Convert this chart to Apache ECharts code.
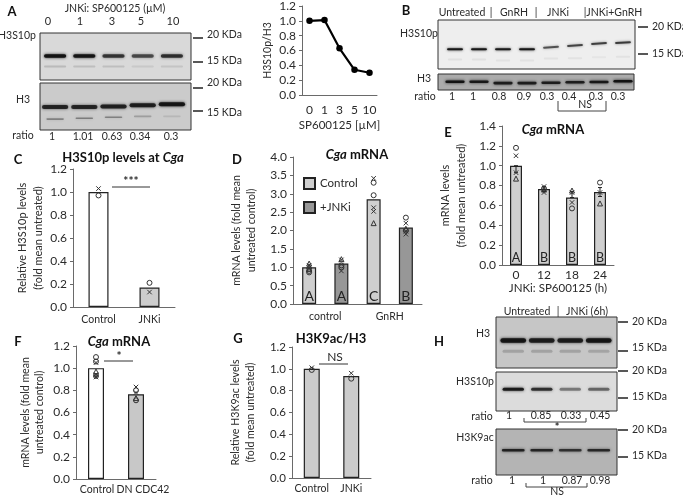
<!DOCTYPE html>
<html><head><meta charset="utf-8">
<script src="https://cdn.jsdelivr.net/npm/echarts@6/dist/echarts.min.js"></script>
<style>html,body{margin:0;padding:0;background:#fff}#c{width:683px;height:496px}</style></head>
<body><div id="c"></div>
<script>
// ---------- DATA ----------
const doseCats = ['0','1','3','5','10'];
const doseRatio = [1,1.01,0.63,0.34,0.3];

const cCats = ['Control','JNKi'];
const cVals = [1,0.17];
const cX = [[0,1.03],[1,0.13]];
const cO = [[0,0.97],[1,0.21]];

const dGroups = ['control','GnRH'];
const dCats = ['c1','c2','g1','g2'];
const dControl = [1,null,2.85,null];
const dJnki = [null,1.1,null,2.08];
const dLetters = ['A','A','C','B'];
const dX = [[0,1.05],[1,0.9],[1,1.2],[2,3.42],[2,2.62],[2,2.52],[3,2.2],[3,1.98],[3,1.9]];
const dO = [[0,0.9],[0,0.86],[1,1.05],[1,1.0],[2,3.3],[2,2.96],[3,2.35],[3,2.0]];
const dT = [[0,1.1],[0,1.02],[1,1.22],[2,2.2],[3,2.05],[0,0.95]];

const eCats = ['0','12','18','24'];
const eVals = [1,0.765,0.68,0.735];
const eLetters = ['A','B','B','B'];
const eX = [[0,1.1],[0,0.93],[1,0.79],[1,0.73],[2,0.73],[2,0.63],[3,0.73]];
const eO = [[0,1.18],[1,0.77],[2,0.57],[3,0.83]];
const eT = [[0,0.87],[1,0.76],[2,0.75],[3,0.62]];
const eErr = [[0,0.93,1.0],[1,0.74,0.79],[2,0.68,0.74],[3,0.69,0.78]];

const fCats = ['Control','DN CDC42'];
const fVals = [1,0.765];
const fX = [[0,1.05],[0,0.94],[0,0.92],[1,0.83],[1,0.78]];
const fO = [[0,1.1],[0,1.06],[0,0.93],[1,0.8],[1,0.71]];
const fT = [[0,0.97],[1,0.73]];

const gCats = ['Control','JNKi'];
const gVals = [1,0.935];
const gX = [[0,1.01],[1,0.96]];
const gO = [[0,0.99],[1,0.91]];

// blot band readings: darkness per lane, and relative migration in the membrane
const a1Dark = [0.95,0.92,0.72,0.62,0.75];
const a1Faint = [0.14,0.13,0.12,0.08,0.1];
const a2Dark = [0.8,0.8,0.82,0.85,0.92];
const a2Pos = [0.51,0.51,0.5,0.47,0.45];
const a2Faint = [0.35,0.38,0.36,0.22,0.1];
const a2FaintPos = [0.78,0.76,0.74,0.72,0.72];
const b1Dark = [0.92,0.92,0.9,0.92,0.62,0.68,0.7,0.72];
const b1Pos = [0.6,0.6,0.6,0.6,0.56,0.52,0.48,0.46];
const b1Tilt = [0,0,0,0,0.07,0.07,0.07,0.05];
const b1Faint = [0.06,0.06,0.05,0.05,0.05,0.05,0.04,0.05];
const b1FaintPos = [0.82,0.82,0.84,0.84,0.8,0.79,0.77,0.76];
const b2Dark = [0.95,0.9,0.85,0.85,0.85,0.85,0.9,0.95];
const b2Pos = [0.48,0.48,0.58,0.58,0.55,0.52,0.5,0.45];
const h1Dark = [0.92,0.85,0.85,0.92];
const h1Faint = [0.18,0.18,0.18,0.16];
const h2Dark = [0.88,0.75,0.42,0.5];
const h3Dark = [0.82,0.8,0.72,0.78];

const ratiosA = ['1','1.01','0.63','0.34','0.3'];
const ratiosB = ['1','1','0.8','0.9','0.3','0.4','0.3','0.3'];
const ratiosH1 = ['1','0.85','0.33','0.45'];
const ratiosH2 = ['1','1','0.87','0.98'];

// ---------- BUILD ----------
const FONT = 'Lato';
const TXT = '#2a2a2a', AX = '#6a6a6a', BORDER = '#222';
const grid = [], xAxis = [], yAxis = [], series = [], title = [], graphic = [];

function text(s, x, y, o) {
  graphic.push({type:'text', x:x, y:y, silent:true, z:20, style:Object.assign({
    text:s, fill:TXT, font:'10.5px '+FONT, align:'center', verticalAlign:'middle'}, o||{})});
}
function line(x1,y1,x2,y2,w,c){
  graphic.push({type:'line', silent:true, z:20, shape:{x1,y1,x2,y2}, style:{stroke:c||'#333', lineWidth:w||1}});
}
function bracket(x1,x2,y,h){
  graphic.push({type:'polyline', silent:true, z:20, shape:{points:[[x1,y-h],[x1,y],[x2,y],[x2,y-h]]}, style:{stroke:'#444',lineWidth:1,fill:null}});
}
function panelTitle(x,y,rich){
  title.push({text:rich, left:x, top:y, textAlign:'center', padding:0, textVerticalAlign:'top',
    textStyle:{rich:{b:{fontFamily:FONT,fontWeight:'bold',fontSize:13,color:'#111'},
                     i:{fontFamily:FONT,fontWeight:'bold',fontStyle:'italic',fontSize:13,color:'#111'}}}});
}
const X_PATH = 'path://M0 0L10 10M10 0L0 10';
function marks(xi, yi, data, kind){
  if(!data) return;
  const sym = {x:X_PATH,o:'circle',t:'triangle'}[kind];
  series.push({type:'scatter', xAxisIndex:xi, yAxisIndex:yi, data:data, symbol:sym,
    symbolSize:kind==='x'?4.5:5, z:10, silent:true,
    itemStyle:{color:'rgba(0,0,0,0)', borderColor:'#333', borderWidth:1, opacity:1}});
}
function chart(o){
  const gi = grid.length;
  grid.push({left:o.l, top:o.t, width:o.w, height:o.h, containLabel:false});
  const labelStyle = Object.assign({color:TXT, fontFamily:FONT, fontSize:o.xFont||10.5, margin:o.xMargin||6, interval:0},o.xLabel||{});
  const xi = xAxis.length;
  xAxis.push({type:'category', gridIndex:gi, data:o.cats, axisLine:{lineStyle:{color:AX,width:1}},
    axisTick:{length:3,lineStyle:{color:AX}}, axisLabel:labelStyle,
    name:o.xName||'', nameLocation:'middle', nameGap:o.xNameGap||24,
    nameTextStyle:{color:TXT,fontFamily:FONT,fontSize:o.xNameFont||11.5}});
  const yi = yAxis.length;
  yAxis.push({type:'value', gridIndex:gi, min:0, max:o.max, interval:o.step,
    axisLine:{show:true,lineStyle:{color:AX,width:1}}, axisTick:{show:true,length:3,lineStyle:{color:AX}},
    splitLine:{show:false},
    axisLabel:{color:TXT,fontFamily:FONT,fontSize:o.yFont||12,margin:o.yMargin||6,formatter:v=>v.toFixed(1)},
    name:o.yName||'', nameLocation:'middle', nameRotate:90, nameGap:o.yGap||30,
    nameTextStyle:{color:TXT,fontFamily:FONT,fontSize:o.yNameFont||11,lineHeight:o.yLine||15}});
  return {xi,yi,gi};
}
function barStyle(c){ return {color:c, borderColor:BORDER, borderWidth:1.2}; }
function letterLabel(arr,size){
  return {show:true, position:'insideBottom', distance:1, color:'#222', fontFamily:FONT, fontSize:size,
    formatter:p=>arr[p.dataIndex]};
}

// --- A line chart
{
  const a = chart({l:302,t:4,w:75,h:91,cats:doseCats,max:1.2,step:0.2,yFont:12,xFont:12,xMargin:9,
    yName:'H3S10p/H3',yGap:25,yNameFont:10.5,xName:'SP600125 [µM]',xNameGap:24,xNameFont:11.5});
  series.push({type:'line',xAxisIndex:a.xi,yAxisIndex:a.yi,data:doseRatio,symbol:'circle',symbolSize:6.5,
    lineStyle:{color:'#000',width:2.2},itemStyle:{color:'#000'}});
}
// --- C
{
  const a = chart({l:73,t:169,w:102,h:138,cats:cCats,max:1.2,step:0.2,xMargin:7,
    yName:'Relative H3S10p levels\n(fold mean untreated)',yGap:22,yLine:16,yNameFont:11});
  series.push({type:'bar',xAxisIndex:a.xi,yAxisIndex:a.yi,barWidth:20,
    data:[{value:cVals[0],itemStyle:barStyle('#fff')},{value:cVals[1],itemStyle:barStyle('#ccc')}]});
  marks(a.xi,a.yi,cX,'x'); marks(a.xi,a.yi,cO,'o');
  panelTitle(123,151,'{b|H3S10p levels at }{i|Cga}');
  line(112,187,150,187); text('***',131,181,{font:'bold 12px '+FONT});
}
// --- D
{
  const a = chart({l:293,t:157,w:129,h:147,cats:dGroups,max:4,step:0.5,xMargin:7,
    yName:'mRNA levels (fold mean\nuntreated control)',yGap:34,yLine:15,yNameFont:10.6});
  const hx = xAxis.length;
  xAxis.push({type:'category',gridIndex:a.gi,data:dCats,show:false});
  const common = {type:'bar',xAxisIndex:hx,yAxisIndex:a.yi,barWidth:14,barGap:'-100%'};
  series.push(Object.assign({},common,{name:'Control',data:dControl,itemStyle:barStyle('#cfcfcf'),label:letterLabel(dLetters,14)}));
  series.push(Object.assign({},common,{name:'+JNKi',data:dJnki,itemStyle:barStyle('#979797'),label:letterLabel(dLetters,14)}));
  marks(hx,a.yi,dX,'x'); marks(hx,a.yi,dO,'o'); marks(hx,a.yi,dT,'t');
  panelTitle(357,148,'{i|Cga}{b| mRNA}');
}
// --- E
{
  const a = chart({l:502,t:126,w:112,h:139,cats:eCats,max:1.4,step:0.2,xFont:12,xMargin:4,yFont:12,
    xName:'JNKi: SP600125 (h)',xNameGap:17,xNameFont:11.5,
    yName:'mRNA levels\n(fold mean untreated)',yGap:33,yLine:16,yNameFont:11});
  series.push({type:'bar',xAxisIndex:a.xi,yAxisIndex:a.yi,barWidth:12,data:eVals,itemStyle:barStyle('#cfcfcf'),label:letterLabel(eLetters,12.5)});
  series.push({type:'custom',xAxisIndex:a.xi,yAxisIndex:a.yi,data:eErr,z:9,silent:true,
    renderItem:(p,api)=>{
      const lo=api.coord([api.value(0),api.value(1)]),hi=api.coord([api.value(0),api.value(2)]);
      const st={stroke:'#222',lineWidth:1};
      return {type:'group',children:[
        {type:'line',shape:{x1:lo[0],y1:lo[1],x2:hi[0],y2:hi[1]},style:st},
        {type:'line',shape:{x1:lo[0]-2,y1:lo[1],x2:lo[0]+2,y2:lo[1]},style:st},
        {type:'line',shape:{x1:hi[0]-2,y1:hi[1],x2:hi[0]+2,y2:hi[1]},style:st}]};
    }});
  marks(a.xi,a.yi,eX,'x'); marks(a.xi,a.yi,eO,'o'); marks(a.xi,a.yi,eT,'t');
  panelTitle(553,123,'{i|Cga}{b| mRNA}');
}
// --- F
{
  const a = chart({l:76,t:346,w:80,h:133,cats:fCats,max:1.2,step:0.2,xMargin:5,
    xLabel:{formatter:(v,i)=>i===1?'{r|'+v+'}':'{l|'+v+'}',
      rich:{r:{padding:[0,0,0,14],fontFamily:FONT,fontSize:10.5,color:TXT},l:{padding:[0,0,0,2],fontFamily:FONT,fontSize:10.5,color:TXT}}},
    yName:'mRNA levels (fold mean\nuntreated control)',yGap:29,yLine:14,yNameFont:10.6});
  series.push({type:'bar',xAxisIndex:a.xi,yAxisIndex:a.yi,barWidth:16,
    data:[{value:fVals[0],itemStyle:barStyle('#fff')},{value:fVals[1],itemStyle:barStyle('#c8c8c8')}]});
  marks(a.xi,a.yi,fX,'x'); marks(a.xi,a.yi,fO,'o'); marks(a.xi,a.yi,fT,'t');
  panelTitle(119,335,'{i|Cga}{b| mRNA}');
  line(104,361,133,361); text('*',119,356,{font:'bold 12px '+FONT});
}
// --- G
{
  const a = chart({l:292,t:347,w:79,h:131,cats:gCats,max:1.2,step:0.2,xMargin:5,yFont:11.5,
    yName:'Relative H3K9ac levels\n(fold mean untreated)',yGap:34,yLine:15,yNameFont:10.6});
  series.push({type:'bar',xAxisIndex:a.xi,yAxisIndex:a.yi,barWidth:16,data:gVals,itemStyle:barStyle('#ccc')});
  marks(a.xi,a.yi,gX,'x'); marks(a.xi,a.yi,gO,'o');
  panelTitle(331,332,'{b|H3K9ac/H3}');
  line(319,364,348,364); text('NS',335,357,{font:'12px '+FONT});
}

// --- blots: a grid per membrane, with bands drawn from their darkness
function blot(o){
  const [bx,by,bw,bh]=o.box, [ll,lw]=o.lanes;
  graphic.push({type:'rect',silent:true,z:1,shape:{x:bx,y:by,width:bw,height:bh},
    style:{fill:o.bg,stroke:'#333',lineWidth:1}});
  const gi=grid.length;
  grid.push({left:ll,top:by+1,width:lw,height:bh-2});
  const xi=xAxis.length, yi=yAxis.length, n=o.rows[0].dark.length;
  xAxis.push({type:'category',gridIndex:gi,show:false,data:Array.from({length:n},(_,i)=>'lane'+i)});
  yAxis.push({type:'value',gridIndex:gi,show:false,min:0,max:1,inverse:true});
  o.rows.forEach(r=>{
    const data=r.dark.map((d,i)=>[i,Array.isArray(r.pos)?r.pos[i]:r.pos,d,r.tilt?r.tilt[i]:0]);
    series.push({type:'custom',xAxisIndex:xi,yAxisIndex:yi,data:data,z:5,silent:true,clip:true,
      renderItem:(p,api)=>{
        const c=api.coord([api.value(0),api.value(1)]), w=api.size([1,0])[0]*(r.w||0.76), h=r.h||3.5;
        const col='rgba(15,15,15,'+api.value(2)+')';
        return {type:'rect',x:c[0],y:c[1],rotation:api.value(3),
          shape:{x:-w/2,y:-h/2,width:w,height:h,r:h/2},
          style:{fill:col,shadowBlur:r.blur||3,shadowColor:col}};
      }});
  });
}
blot({box:[40,33,151,47],lanes:[40.5,146],bg:'#d9d9d9',rows:[
  {dark:a1Dark,pos:0.49,h:3.5},{dark:a1Faint,pos:0.72,h:2}]});
blot({box:[40,83,151,47],lanes:[40.5,146],bg:'#cbcbcb',rows:[
  {dark:a2Dark,pos:a2Pos,h:4,w:0.9},{dark:a2Faint,pos:a2FaintPos,h:1.6,w:0.6}]});
blot({box:[438,20,197,49],lanes:[443,192],bg:'#eeeeee',rows:[
  {dark:b1Dark,pos:b1Pos,h:2,w:0.66,blur:2.5,tilt:b1Tilt},{dark:b1Faint,pos:b1FaintPos,h:2,w:0.6}]});
blot({box:[438,74,196,16],lanes:[443,192],bg:'#ababab',rows:[
  {dark:b2Dark,pos:b2Pos,h:2.6,w:0.8}]});
blot({box:[496,317,121,51],lanes:[499,114],bg:'#c6c6c6',rows:[
  {dark:h1Dark,pos:0.46,h:4.5,w:0.9},{dark:h1Faint,pos:0.68,h:3,w:0.75}]});
blot({box:[496,372,121,39],lanes:[499,114],bg:'#dcdcdc',rows:[
  {dark:h2Dark,pos:0.44,h:3,w:0.75}]});
blot({box:[496,429,121,46],lanes:[499,114],bg:'#b4b4b4',rows:[
  {dark:h3Dark,pos:0.46,h:2.6,w:0.8}]});

// size markers
function ladder(x1,x2,items){
  items.forEach(([ty,ly,s])=>{ line(x1,ty,x2,ty,1.4,'#111'); text(s+' KDa',x2+4,ly,{align:'left'}); });
}
ladder(193,203,[[38,35,20],[62,61,15],[88,83,20],[111,113,15]]);
ladder(638,648,[[27,27,20],[54,54,15]]);
ladder(618,628,[[322,322,20],[351,348,15],[371,371,20],[398,397,15],[430,430,20],[457,456,15]]);

// Panel letters
[['A',12,12],['B',406,11],['C',18,160],['D',237,160],['E',448,133],['F',18,342],['G',238,339],['H',439,342]]
  .forEach(([s,x,y])=>text(s,x,y,{font:'bold 13px '+FONT,fill:'#111'}));

// Panel A text
text('JNKi: SP600125 (µM)',115,9);
doseCats.forEach((s,i)=>text(s,[48,80,112,141,173][i],21,{font:'11px '+FONT}));
text('H3S10p',17,36); text('H3',23,100); text('ratio',23,136);
ratiosA.forEach((s,i)=>text(s,[52,83,112,140,171][i],137));

// Panel B text
[['Untreated',462],['|',491],['GnRH',514],['|',536],['JNKi',558],['|JNKi+GnRH',613]].forEach(([s,x])=>text(s,x,13));
text('H3S10p',419,34); text('H3',424,79); text('ratio',425,97);
ratiosB.forEach((s,i)=>text(s,[452,473,499,524,547,569,596,618][i],97));
bracket(558,606,111,10); text('NS',585,105);

// Panel H text
text('Untreated',527,312); text('|',558,312); text('JNKi (6h)',587,312);
text('H3',483,334); text('H3S10p',475,382); text('H3K9ac',475,438);
text('ratio',482,417); ratiosH1.forEach((s,i)=>text(s,[509,541,571,600][i],416));
bracket(524,586,422,4); text('*',557,427,{font:'bold 11px '+FONT});
text('ratio',482,481); ratiosH2.forEach((s,i)=>text(s,[512,543,572,600][i],481));
bracket(526,587,487,4); text('NS',557,492);

const chartInst = echarts.init(document.getElementById('c'),null,{renderer:'canvas'});
chartInst.setOption({
  animation:false, backgroundColor:'#fff', textStyle:{fontFamily:FONT},
  title:title, grid:grid, xAxis:xAxis, yAxis:yAxis, series:series, graphic:graphic,
  legend:{show:true,left:303,top:177,padding:0,orient:'vertical',itemWidth:11,itemHeight:11,itemGap:11,selectedMode:false,
    data:[{name:'Control',icon:'rect'},{name:'+JNKi',icon:'rect'}],
    textStyle:{color:TXT,fontFamily:FONT,fontSize:11.5}}
});
</script></body></html>
